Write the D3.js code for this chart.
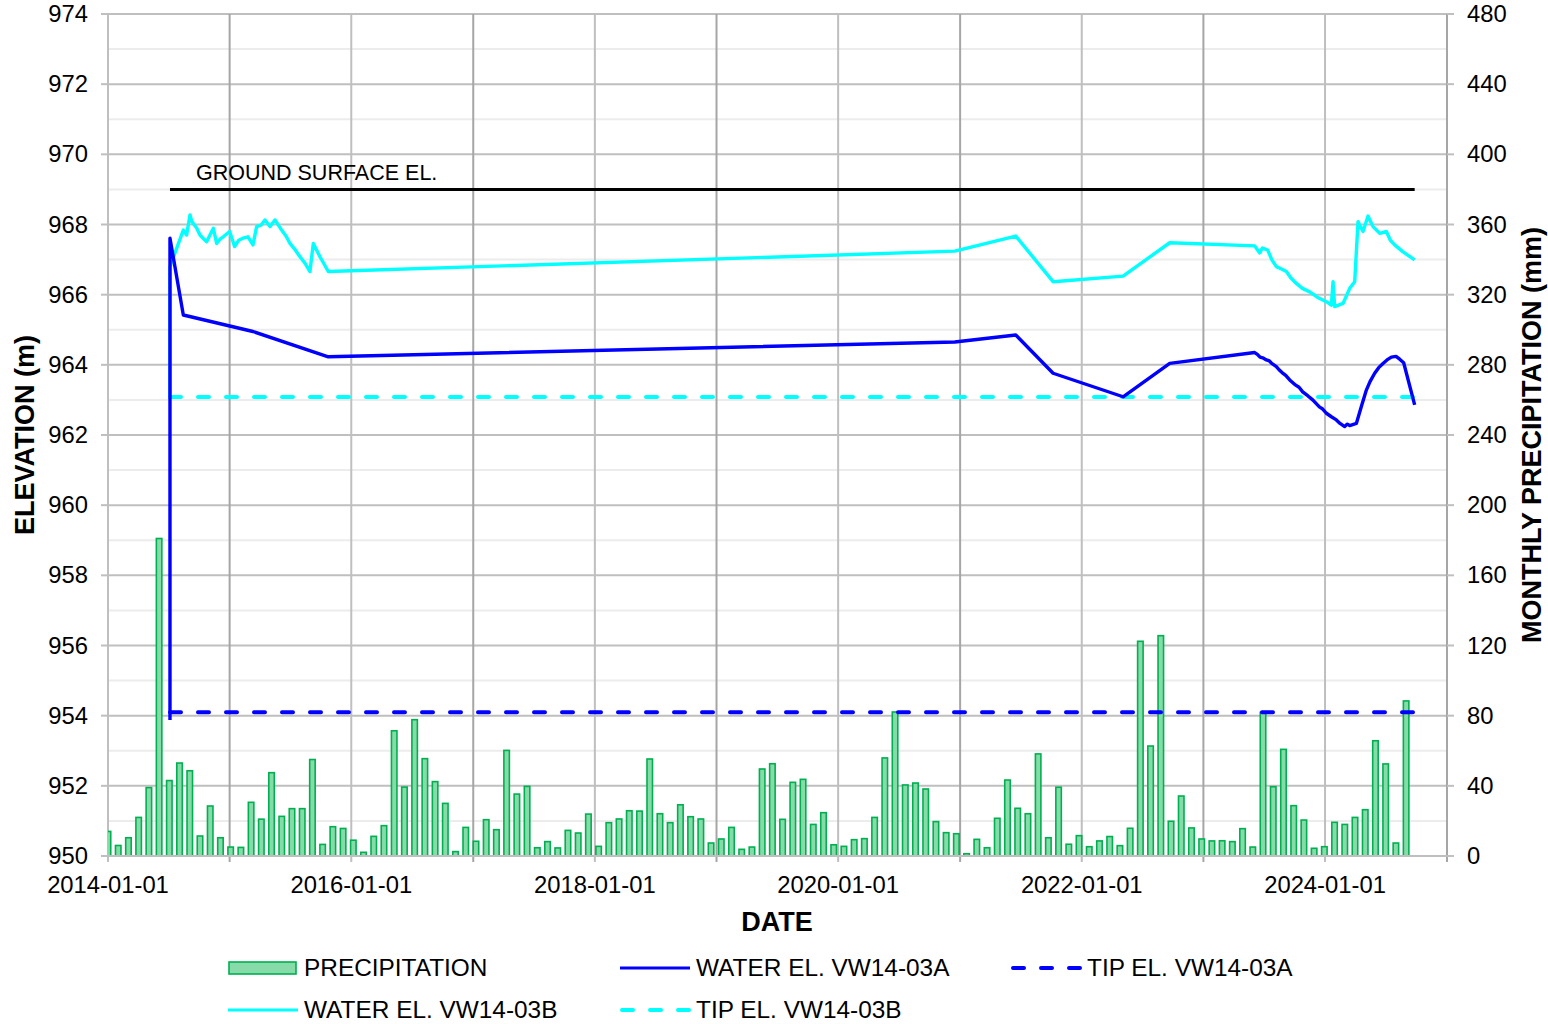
<!DOCTYPE html>
<html><head><meta charset="utf-8">
<script src="https://cdn.jsdelivr.net/npm/d3@7"></script>
<style>
html,body{margin:0;padding:0;background:#fff;}
text{font-family:"Liberation Sans",Arial,sans-serif;fill:#000;}
</style></head>
<body>
<svg id="c" width="1548" height="1024"></svg>
<script>
// ---------- DATA ----------
const precipStart = "2014-01-01";   // first monthly category
const precipEnd   = "2024-12-01";   // last monthly category on the axis
// monthly precipitation (mm), Jan 2014 -> Aug 2024
const precipitation = [
  14, 6, 10.4, 22, 39, 181, 43, 53, 48.6, 11.4, 28.5, 10.4,
  5.1, 4.9, 30.6, 21, 47.5, 22.6, 27, 27, 55, 6.6, 16.7, 15.7,
  9, 2.1, 11.2, 17.3, 71.4, 39.3, 77.7, 55.5, 42.4, 30, 2.5, 16.3,
  8.4, 20.7, 15, 60.2, 35.3, 39.7, 4.7, 8.2, 4.6, 14.6, 13.1, 23.9,
  5.5, 19, 21.1, 25.8, 25.6, 55.3, 24.1, 19, 29.2, 22.4, 21.1, 7.4,
  9.7, 16.3, 3.8, 5.1, 49.6, 52.6, 20.9, 42, 43.7, 18, 24.7, 6.4,
  5.5, 9.3, 9.9, 22, 55.9, 82.1, 40.5, 41.6, 38.2, 19.6, 13.3, 12.7,
  1.3, 9.5, 4.7, 21.5, 43.3, 27.2, 24.1, 58.2, 10.4, 39.2, 6.7, 11.6,
  5.3, 8.6, 11.1, 5.9, 15.8, 122.4, 62.7, 125.6, 19.8, 34.2, 16, 9.7,
  8.6, 8.7, 8.2, 15.6, 5.1, 81.9, 39.5, 60.8, 28.7, 20.5, 4.4, 5.3,
  19.2, 18, 22, 26.4, 65.7, 52.5, 7.4, 88.4
];
const waterA = [
  ["2014-07-06",953.88],["2014-07-06",967.61],["2014-08-15",965.42],["2015-03-12",964.95],
  ["2015-10-24",964.23],["2020-12-16",964.65],["2021-06-17",964.85],["2021-10-07",963.76],
  ["2022-05-05",963.09],["2022-09-22",964.04],["2023-06-04",964.35],["2023-06-12",964.30],
  ["2023-06-20",964.22],["2023-06-28",964.20],["2023-07-09",964.14],["2023-07-18",964.11],
  ["2023-07-25",964.04],["2023-08-08",963.95],["2023-08-16",963.86],["2023-08-25",963.78],
  ["2023-09-05",963.70],["2023-09-17",963.57],["2023-10-05",963.42],["2023-10-15",963.36],
  ["2023-10-26",963.23],["2023-11-10",963.12],["2023-11-25",963.00],["2023-12-15",962.80],
  ["2023-12-25",962.74],["2024-01-05",962.62],["2024-01-20",962.52],["2024-02-04",962.43],
  ["2024-02-15",962.33],["2024-02-29",962.24],["2024-03-08",962.31],["2024-03-15",962.27],
  ["2024-04-04",962.33],["2024-04-19",962.81],["2024-05-04",963.28],["2024-05-15",963.52],
  ["2024-05-29",963.76],["2024-06-10",963.92],["2024-06-23",964.04],["2024-07-05",964.14],
  ["2024-07-18",964.22],["2024-08-01",964.24],["2024-08-12",964.16],["2024-08-24",964.06],
  ["2024-09-26",962.86]
];
const waterB = [
  ["2014-07-06",963.08],["2014-07-06",966.80],["2014-08-15",967.84],["2014-08-25",967.70],
  ["2014-09-04",968.27],["2014-09-09",968.10],["2014-09-14",968.03],["2014-09-24",967.90],
  ["2014-10-04",967.70],["2014-10-14",967.60],["2014-10-24",967.51],["2014-11-13",967.89],
  ["2014-11-23",967.46],["2014-12-03",967.58],["2014-12-13",967.65],["2015-01-01",967.80],
  ["2015-01-16",967.37],["2015-01-28",967.55],["2015-02-10",967.61],["2015-02-25",967.65],
  ["2015-03-12",967.42],["2015-03-23",967.94],["2015-04-05",967.98],["2015-04-17",968.13],
  ["2015-05-02",967.94],["2015-05-17",968.13],["2015-06-06",967.84],["2015-06-20",967.66],
  ["2015-07-01",967.46],["2015-07-15",967.30],["2015-07-31",967.08],["2015-08-15",966.90],
  ["2015-08-30",966.66],["2015-09-09",967.46],["2015-09-29",967.08],["2015-10-24",966.66],
  ["2020-12-16",967.24],["2021-06-17",967.67],["2021-10-07",966.37],["2022-05-05",966.53],
  ["2022-09-22",967.48],["2023-06-04",967.39],["2023-06-19",967.19],["2023-06-27",967.33],
  ["2023-07-13",967.27],["2023-07-25",967.00],["2023-08-08",966.80],["2023-08-22",966.74],
  ["2023-09-07",966.66],["2023-09-20",966.48],["2023-10-07",966.32],["2023-10-25",966.18],
  ["2023-11-16",966.08],["2023-12-10",965.92],["2024-01-05",965.80],["2024-01-20",965.70],
  ["2024-01-25",966.37],["2024-01-30",965.66],["2024-02-24",965.75],["2024-03-15",966.18],
  ["2024-03-30",966.37],["2024-04-09",968.08],["2024-04-24",967.80],["2024-05-09",968.24],
  ["2024-05-24",967.94],["2024-06-13",967.75],["2024-07-03",967.80],["2024-07-15",967.55],
  ["2024-07-28",967.42],["2024-08-22",967.22],["2024-09-26",966.99]
];
const groundEl = 969.0, tipA = 954.1, tipB = 963.08;
const refStart = "2014-07-06", refEnd = "2024-09-26";
const elevTicks = [950,952,954,956,958,960,962,964,966,968,970,972,974];
const precipTicks = [0,40,80,120,160,200,240,280,320,360,400,440,480];
const dateTickLabels = ["2014-01-01","2016-01-01","2018-01-01","2020-01-01","2022-01-01","2024-01-01"];
const legendItems = [
  {key:"PRECIPITATION", type:"bar"},
  {key:"WATER EL. VW14-03A", type:"line", color:"#0000ff", dash:null},
  {key:"TIP EL. VW14-03A", type:"line", color:"#0000ff", dash:"11,17"},
  {key:"WATER EL. VW14-03B", type:"line", color:"#00ffff", dash:null},
  {key:"TIP EL. VW14-03B", type:"line", color:"#00ffff", dash:"11,17"}
];

// ---------- LAYOUT ----------
const L = 108, R = 1447, T = 14, B = 856;
const svg = d3.select("#c");
const pd = d => new Date(d + "T00:00:00Z");

const x = d3.scaleUtc().domain([pd("2014-01-01"), pd("2025-01-01")]).range([L, R]);
const y = d3.scaleLinear().domain([950, 974]).range([B, T]);
const y2 = d3.scaleLinear().domain([0, 480]).range([B, T]);
const months = d3.utcMonth.range(pd(precipStart), d3.utcMonth.offset(pd(precipEnd), 1));
const xb = d3.scalePoint().domain(months.map(d => +d)).range([L, R]);

// grid
const g = svg.append("g");
const minor = d3.range(951, 974, 2);
g.selectAll(".mn").data(minor).join("line")
  .attr("x1", L).attr("x2", R).attr("y1", d => y(d)).attr("y2", d => y(d))
  .attr("stroke", "#ececec").attr("stroke-width", 2);
g.selectAll(".mj").data(elevTicks).join("line")
  .attr("x1", L).attr("x2", R).attr("y1", d => y(d)).attr("y2", d => y(d))
  .attr("stroke", "#bfbfbf").attr("stroke-width", 2);
const years = d3.utcYear.range(pd("2014-01-01"), pd("2025-01-02"));
g.selectAll(".vy").data(years).join("line")
  .attr("x1", d => x(d)).attr("x2", d => x(d)).attr("y1", T).attr("y2", B + 6)
  .attr("stroke", d => d.getUTCFullYear() % 2 ? "#a6a6a6" : "#bfbfbf").attr("stroke-width", 2);
g.selectAll(".tl").data(elevTicks).join("line")
  .attr("x1", L - 7).attr("x2", L).attr("y1", d => y(d)).attr("y2", d => y(d))
  .attr("stroke", "#bfbfbf").attr("stroke-width", 2);
g.selectAll(".tr").data(precipTicks).join("line")
  .attr("x1", R).attr("x2", R + 7).attr("y1", d => y2(d)).attr("y2", d => y2(d))
  .attr("stroke", "#bfbfbf").attr("stroke-width", 2);

svg.append("clipPath").attr("id", "clip").append("rect")
  .attr("x", L).attr("y", T).attr("width", R - L).attr("height", B - T);

// bars
const bw = 5.5;
svg.append("g").attr("clip-path", "url(#clip)")
  .selectAll("rect").data(precipitation).join("rect")
  .attr("x", (d, i) => xb(+months[i]) - bw / 2)
  .attr("y", d => y2(d))
  .attr("width", bw)
  .attr("height", d => B - y2(d))
  .attr("fill", "#86dba9").attr("stroke", "#00b050").attr("stroke-width", 1.6);

svg.append("line").attr("x1", L).attr("x2", R).attr("y1", B).attr("y2", B).attr("stroke", "#bfbfbf").attr("stroke-width", 2);

// reference lines
const ref = svg.append("g");
const hl = (v, color, w, dash) => ref.append("line")
  .attr("x1", x(pd(refStart))).attr("x2", x(pd(refEnd))).attr("y1", y(v)).attr("y2", y(v))
  .attr("stroke", color).attr("stroke-width", w).attr("stroke-dasharray", dash)
  .attr("stroke-linecap", dash ? "round" : "butt");
hl(groundEl, "#000", 3, null);
hl(tipA, "#0000ff", 4, "11,17");
hl(tipB, "#00ffff", 4, "11,17");

// water lines
const line = d3.line().x(d => x(pd(d[0]))).y(d => y(d[1]));
svg.append("path").datum(waterB).attr("d", line).attr("fill", "none")
  .attr("stroke", "#00ffff").attr("stroke-width", 3.4).attr("stroke-linejoin", "round");
svg.append("path").datum(waterA).attr("d", line).attr("fill", "none")
  .attr("stroke", "#0000ff").attr("stroke-width", 3.4).attr("stroke-linejoin", "round");

svg.append("text").attr("x", 196).attr("y", 180).attr("font-size", 21.5).text("GROUND SURFACE EL.");

// tick labels
svg.append("g").selectAll("text").data(elevTicks).join("text")
  .attr("x", 88).attr("y", d => y(d) + 8).attr("text-anchor", "end").attr("font-size", 23.8).text(d => d);
svg.append("g").selectAll("text").data(precipTicks).join("text")
  .attr("x", 1467).attr("y", d => y2(d) + 8).attr("font-size", 23.8).text(d => d);
svg.append("g").selectAll("text").data(dateTickLabels).join("text")
  .attr("x", d => x(pd(d))).attr("y", 893).attr("text-anchor", "middle").attr("font-size", 23.8).text(d => d);

// titles
svg.append("text").attr("x", 777).attr("y", 931).attr("text-anchor", "middle")
  .attr("font-size", 27).attr("font-weight", "bold").text("DATE");
svg.append("text").attr("transform", "translate(34,435) rotate(-90)").attr("text-anchor", "middle")
  .attr("font-size", 27).attr("font-weight", "bold").text("ELEVATION (m)");
svg.append("text").attr("transform", "translate(1541,435) rotate(-90)").attr("text-anchor", "middle")
  .attr("font-size", 27).attr("font-weight", "bold").text("MONTHLY PRECIPITATION (mm)");

// legend
const legPos = [[228, 968], [620, 968], [1011, 968], [228, 1010], [620, 1010]];
const lg = svg.append("g");
legendItems.forEach((it, i) => {
  const [lx, ly] = legPos[i];
  if (it.type === "bar") {
    lg.append("rect").attr("x", lx + 1).attr("y", ly - 6).attr("width", 67).attr("height", 12)
      .attr("fill", "#86dba9").attr("stroke", "#00b050").attr("stroke-width", 1.6);
  } else {
    lg.append("line").attr("x1", lx + (it.dash ? 2 : 0)).attr("x2", lx + 70).attr("y1", ly).attr("y2", ly)
      .attr("stroke", it.color).attr("stroke-width", it.dash ? 4 : 3.2)
      .attr("stroke-dasharray", it.dash).attr("stroke-linecap", it.dash ? "round" : "butt");
  }
  lg.append("text").attr("x", lx + 76).attr("y", ly + 8).attr("font-size", 24.4).text(it.key);
});
</script>
</body></html>
